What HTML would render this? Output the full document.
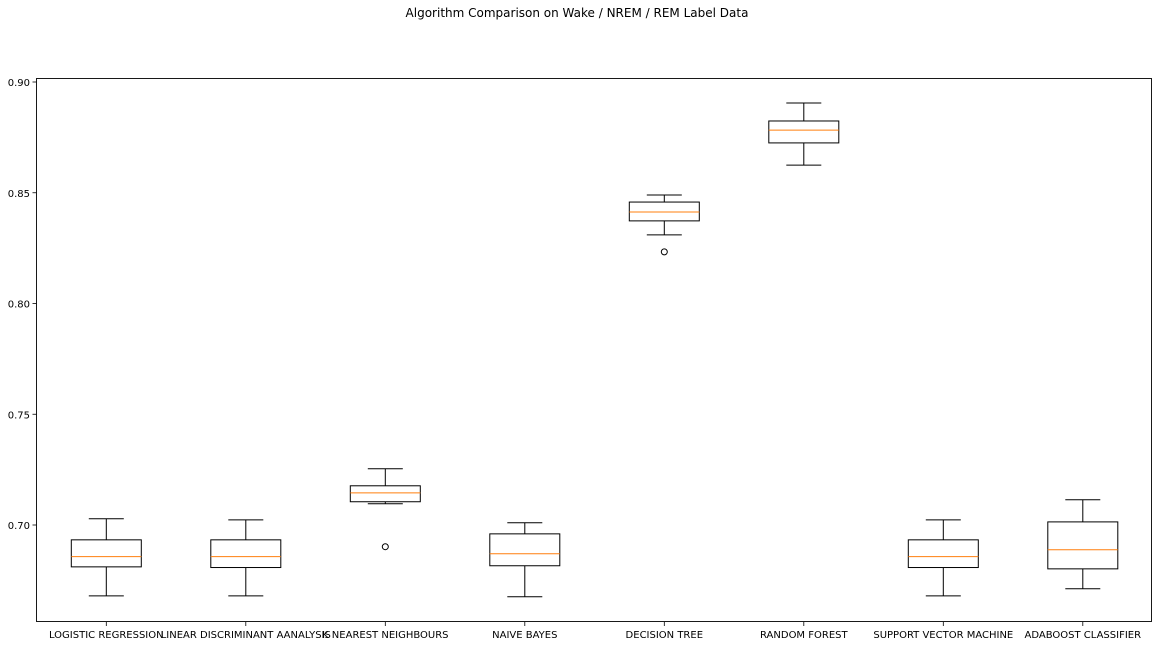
<!DOCTYPE html>
<html><head><meta charset="utf-8"><style>
body{margin:0;background:#fff;}
svg{display:block;font-family:"DejaVu Sans","Liberation Sans",sans-serif;}
</style></head><body>
<svg id="chart" width="1159" height="646" viewBox="0 0 1159 646">
<rect width="1159" height="646" fill="#fff"/>
<text x="577" y="17" text-anchor="middle" font-size="12">Algorithm Comparison on Wake / NREM / REM Label Data</text>
<g id="plot"></g>
<rect x="36.5" y="78.5" width="1115" height="543" fill="none" stroke="#000" stroke-width="0.9"/>
</svg>
<script>
const categories=["LOGISTIC REGRESSION","LINEAR DISCRIMINANT AANALYSIS","K NEAREST NEIGHBOURS","NAIVE BAYES","DECISION TREE","RANDOM FOREST","SUPPORT VECTOR MACHINE","ADABOOST CLASSIFIER"];
const whiskerLow=[0.6680,0.6680,0.7096,0.6676,0.8310,0.8625,0.6680,0.6712];
const q1Values=[0.6811,0.6808,0.7105,0.6816,0.8373,0.8725,0.6808,0.6802];
const medianValues=[0.6857,0.6857,0.7145,0.6870,0.8413,0.8783,0.6857,0.6888];
const q3Values=[0.6933,0.6933,0.7177,0.6960,0.8458,0.8824,0.6933,0.7014];
const whiskerHigh=[0.7028,0.7023,0.7254,0.7010,0.8490,0.8905,0.7023,0.7114];
const outliers=[[],[],[0.6902],[],[0.8233],[],[],[]];
const yTicks=[0.70,0.75,0.80,0.85,0.90];
const yTickLabels=["0.70","0.75","0.80","0.85","0.90"];

const NS="http://www.w3.org/2000/svg";
const g=document.getElementById('plot');
const y=v=>525-(v-0.70)*2215;
const x=i=>106.3+i*139.5;
function mk(tag,attrs){const e=document.createElementNS(NS,tag);for(const k in attrs)e.setAttribute(k,attrs[k]);g.appendChild(e);return e;}
yTicks.forEach((t,i)=>{
  const l=mk('line',{x1:32.5,x2:36.5,y1:y(t),y2:y(t),stroke:'#000','stroke-width':0.8});
  
  
  const tx=mk('text',{x:30,y:y(t)+4,'text-anchor':'end','font-size':10});
  tx.textContent=yTickLabels[i];
  
  
});
categories.forEach((c,i)=>{
  const cx=x(i),hw=35,cap=17.5;
  const t=mk('line',{x1:cx,x2:cx,y1:622,y2:626,stroke:'#000','stroke-width':0.8});
  
  
  const lb=mk('text',{x:cx,y:638,'text-anchor':'middle','font-size':10});
  lb.textContent=c;
  
  
  const s={stroke:'#000','stroke-width':1,fill:'none'};
  const w1=mk('line',Object.assign({x1:cx,x2:cx,y1:y(whiskerLow[i]),y2:y(q1Values[i])},s));
  
  
  const w2=mk('line',Object.assign({x1:cx,x2:cx,y1:y(whiskerHigh[i]),y2:y(q3Values[i])},s));
  
  
  const c1=mk('line',Object.assign({x1:cx-cap,x2:cx+cap,y1:y(whiskerLow[i]),y2:y(whiskerLow[i])},s));
  
  
  const c2=mk('line',Object.assign({x1:cx-cap,x2:cx+cap,y1:y(whiskerHigh[i]),y2:y(whiskerHigh[i])},s));
  
  
  const b=mk('rect',Object.assign({x:cx-hw,y:y(q3Values[i]),width:2*hw,height:y(q1Values[i])-y(q3Values[i])},s));
  
  
  const m=mk('line',{x1:cx-hw,x2:cx+hw,y1:y(medianValues[i]),y2:y(medianValues[i]),stroke:'#ff7f0e','stroke-width':1});
  
  
  outliers[i].forEach(o=>{
    const p=mk('circle',{cx:cx,cy:y(o),r:3,fill:'none',stroke:'#000','stroke-width':1});
    
    
  });
});
</script>
</body></html>
